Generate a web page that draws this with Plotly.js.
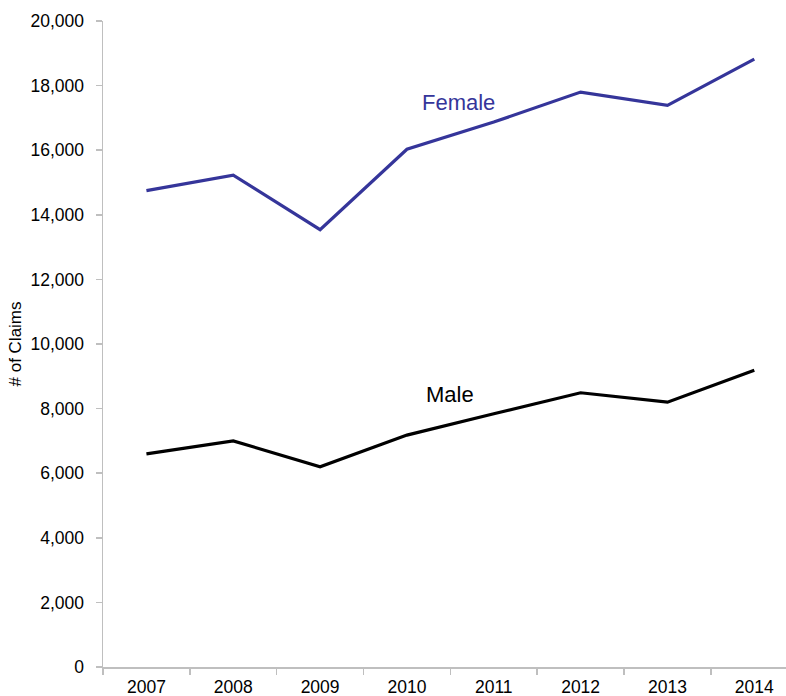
<!DOCTYPE html>
<html>
<head>
<meta charset="utf-8">
<script src="https://cdn.plot.ly/plotly-3.0.1.min.js"></script>
<style>html,body{margin:0;padding:0;background:#fff;}#chart{width:786px;height:696px;}</style>
</head>
<body>
<div id="chart"></div>
<script>
var years = ["2007","2008","2009","2010","2011","2012","2013","2014"];
var female = [14750, 15230, 13540, 16030, 16870, 17800, 17390, 18820];
var male = [6600, 7000, 6200, 7180, 7840, 8490, 8200, 9190];
var yTicks = [0, 2000, 4000, 6000, 8000, 10000, 12000, 14000, 16000, 18000, 20000];

var femaleColor = "#35359A";
var traces = [
  {x: years, y: female, type: "scatter", mode: "lines", name: "Female",
   line: {color: femaleColor, width: 3.2}},
  {x: years, y: male, type: "scatter", mode: "lines", name: "Male",
   line: {color: "#000000", width: 3.2}}
];

var layout = {
  width: 786, height: 696,
  margin: {l: 103, r: 0, t: 21, b: 29, pad: 0},
  paper_bgcolor: "#ffffff", plot_bgcolor: "#ffffff",
  showlegend: false,
  font: {family: "Liberation Sans, Arial, sans-serif", color: "#000000"},
  xaxis: {
    type: "category",
    range: [-0.5, 7.365],
    showgrid: false, zeroline: false,
    showline: true, linecolor: "#BFBFBF", linewidth: 1.5,
    ticks: "outside", ticklen: 6, tickcolor: "#BFBFBF", tickwidth: 1.5,
    tickson: "boundaries",
    ticklabelstandoff: 3,
    tickfont: {size: 17.5, color: "#000000"}
  },
  yaxis: {
    range: [0, 20000],
    tickvals: yTicks,
    tickformat: ",d",
    showgrid: false, zeroline: false,
    showline: true, linecolor: "#BFBFBF", linewidth: 1.5,
    ticks: "outside", ticklen: 6, tickcolor: "#BFBFBF", tickwidth: 1.5,
    ticklabelstandoff: 8,
    tickfont: {size: 17.5, color: "#000000"},
    title: {text: "# of Claims", font: {size: 17, color: "#000000"}, standoff: 4}
  },
  annotations: [
    {x: 3.59, y: 17490, xref: "x", yref: "y", text: "Female", showarrow: false,
     font: {size: 22, color: femaleColor}},
    {x: 3.5, y: 8430, xref: "x", yref: "y", text: "Male", showarrow: false,
     font: {size: 22, color: "#000000"}}
  ]
};

Plotly.newPlot("chart", traces, layout, {displayModeBar: false, staticPlot: true});
</script>
</body>
</html>
